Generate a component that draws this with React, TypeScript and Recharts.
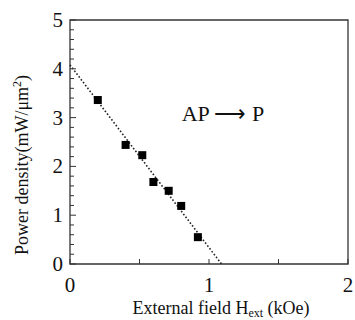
import { ComposedChart, Line, Scatter, XAxis, YAxis, ReferenceArea, ReferenceDot, Label } from "recharts";

// measured points (H_ext in kOe, power density in mW/um^2)
const fieldKOe = [0.2, 0.4, 0.52, 0.6, 0.71, 0.8, 0.92];
const powerDensity = [3.36, 2.44, 2.23, 1.68, 1.5, 1.19, 0.55];

// linear fit drawn as dotted line
const fitField = [0, 1.09];
const fitPower = [4.08, 0];

const xTicks = [0, 0.5, 1, 1.5, 2];
const yTicks = [0, 0.2, 0.4, 0.6, 0.8, 1, 1.2, 1.4, 1.6, 1.8, 2, 2.2, 2.4, 2.6, 2.8, 3, 3.2, 3.4, 3.6, 3.8, 4, 4.2, 4.4, 4.6, 4.8, 5];

const points = fieldKOe.map((x, i) => ({ x, y: powerDensity[i] }));
const fit = fitField.map((x, i) => ({ x, y: fitPower[i] }));

const FONT = "'Liberation Serif', 'Times New Roman', serif";
const FRAME = "#333";

function isMajor(v: number) {
  return Math.abs(v - Math.round(v)) < 1e-6;
}

function YTick(props: any) {
  const { x, y, payload } = props;
  const v = payload.value as number;
  const major = isMajor(v);
  return (
    <g>
      <line x1={x} x2={x + (major ? 6 : 4)} y1={y} y2={y} stroke={FRAME} strokeWidth={1} />
      {major && (
        <text x={x - 7} y={y + 7} textAnchor="end" fontSize={21} fontFamily={FONT} fill="#111">
          {v}
        </text>
      )}
    </g>
  );
}

function XTick(props: any) {
  const { x, y, payload } = props;
  const v = payload.value as number;
  const major = isMajor(v);
  return (
    <g>
      <line x1={x} x2={x} y1={y} y2={y - 5} stroke={FRAME} strokeWidth={1} />
      {major && (
        <text x={x} y={y + 28} textAnchor="middle" fontSize={21} fontFamily={FONT} fill="#111">
          {v}
        </text>
      )}
    </g>
  );
}

function Square(props: any) {
  const { cx, cy } = props;
  return <rect x={cx - 4} y={cy - 4} width={8} height={8} fill="#000" />;
}

export default function App() {
  return (
    <div style={{ position: "absolute", left: 0, top: 0, background: "#fff" }}>
      <ComposedChart width={355} height={320} margin={{ top: 20, right: 7, bottom: 0, left: 10 }}>
        <XAxis
          dataKey="x"
          type="number"
          domain={[0, 2]}
          ticks={xTicks}
          interval={0}
          axisLine={false}
          tickLine={false}
          tickSize={0}
          tickMargin={0}
          tick={<XTick />}
          height={56}
        >
          <Label
            content={(p: any) => {
              const vb = p.viewBox;
              return (
                <text x={vb.x + vb.width / 2 + 12} y={314} textAnchor="middle" fontSize={18} fontFamily={FONT} fill="#111">
                  External field H
                  <tspan fontSize={12} dy={3}>ext</tspan>
                  <tspan dy={-3}> (kOe)</tspan>
                </text>
              );
            }}
          />
        </XAxis>
        <YAxis
          type="number"
          domain={[0, 5]}
          ticks={yTicks}
          interval={0}
          axisLine={false}
          tickLine={false}
          tickSize={0}
          tickMargin={0}
          tick={<YTick />}
          width={60}
        >
          <Label
            content={(p: any) => {
              const vb = p.viewBox;
              const cy = vb.y + vb.height / 2 + 23;
              return (
                <text x={28} y={cy} transform={`rotate(-90 28 ${cy})`} textAnchor="middle" fontSize={18} fontFamily={FONT} fill="#111">
                  Power density(mW/μm
                  <tspan fontSize={12} dy={-7}>2</tspan>
                  <tspan dy={7}>)</tspan>
                </text>
              );
            }}
          />
        </YAxis>
        <ReferenceArea x1={0} x2={2} y1={0} y2={5} fill="none" stroke={FRAME} strokeWidth={1.3} />
        <Line
          data={fit}
          dataKey="y"
          stroke="#222"
          strokeWidth={1.6}
          strokeDasharray="1.6 2"
          dot={false}
          isAnimationActive={false}
        />
        <Scatter data={points} dataKey="y" shape={<Square />} isAnimationActive={false} />
        <ReferenceDot
          x={1.1}
          y={3.09}
          r={0}
          fill="none"
          stroke="none"
          label={{ value: "AP ⟶ P", position: "center", fontSize: 22, fontFamily: FONT, fill: "#111" }}
        />
      </ComposedChart>
    </div>
  );
}
